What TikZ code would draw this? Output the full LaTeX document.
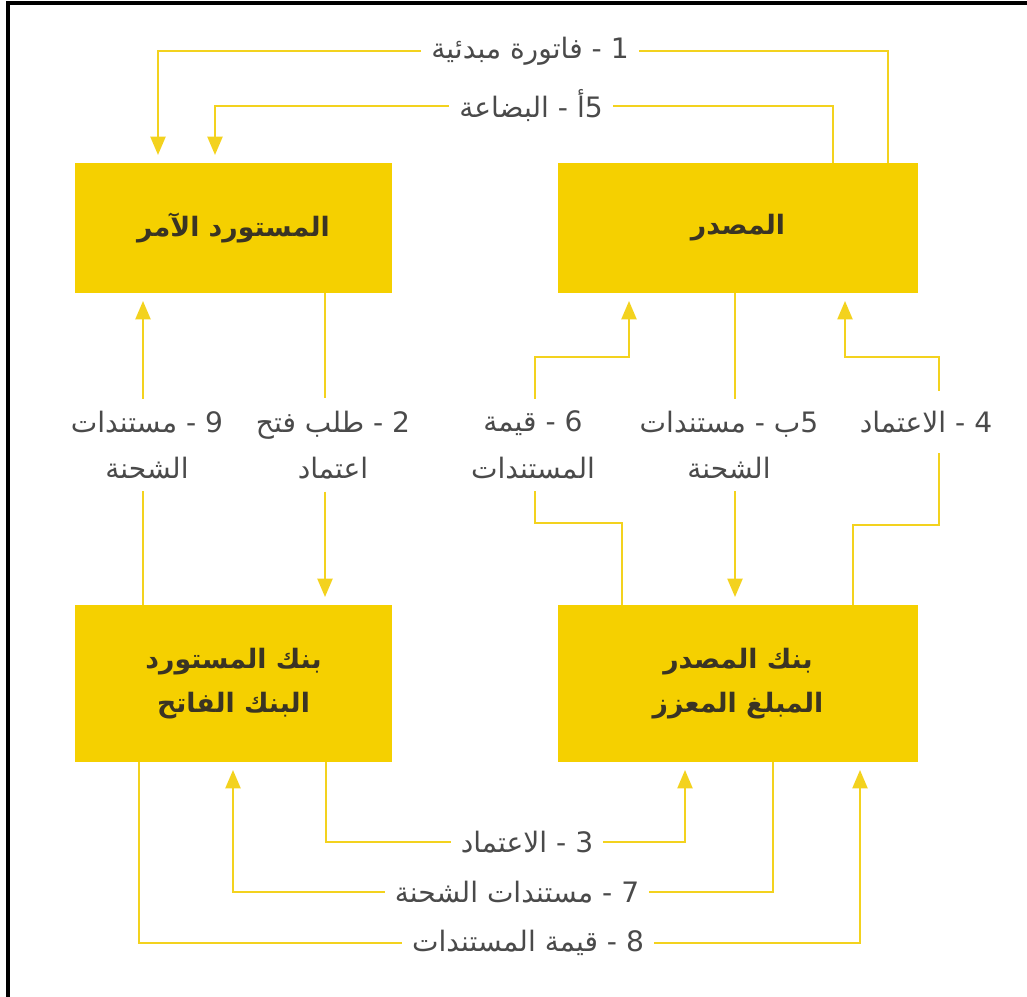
\documentclass[tikz,border=0pt]{standalone}
\usepackage{fontspec}
\usetikzlibrary{arrows.meta,positioning,calc}
\newfontfamily\arabicfont[Script=Arabic]{DejaVu Sans}
\TeXXeTstate=1
\definecolor{gold}{HTML}{F5D000}
\definecolor{goldline}{HTML}{F3D21E}
\definecolor{labelgray}{HTML}{4A4A4A}
\definecolor{boxtext}{HTML}{3A3424}
\newcommand\artxt[1]{{\arabicfont\beginR #1\endR}}

\begin{document}
\begin{tikzpicture}[x=0.025cm,y=-0.025cm,
  party/.style={rectangle,fill=gold,inner sep=0pt,outer sep=0pt,align=center,
     font=\arabicfont\bfseries\fontsize{19}{31}\selectfont,text=boxtext},
  small/.style={party,minimum width=7.925cm},
  wide/.style={party,minimum width=9cm},
  lbl/.style={align=center,inner xsep=0.25cm,inner ysep=0.3cm,text=labelgray,
     font=\arabicfont\fontsize{20}{33}\selectfont},
  flow/.style={draw=goldline,line width=1.2pt},
  tip/.style={flow,shorten >=0.2cm,-{Triangle[length=4.6mm,width=3.8mm]}}]
\useasboundingbox (0,0) rectangle (1027,997);
\draw[line width=2.2pt] (8,997) -- (8,3) -- (1027,3);

\node[small,minimum height=3.25cm] (importer) at (233.5,228) {\artxt{المستورد الآمر}};
\node[wide,minimum height=3.25cm] (exporter) at (738,228) {\artxt{المصدر}};
\node[small,minimum height=3.925cm] (ibank) at (233.5,683.5) {\artxt{بنك المستورد}\\\artxt{البنك الفاتح}};
\node[wide,minimum height=3.925cm] (ebank) at (738,683.5) {\artxt{بنك المصدر}\\\artxt{المبلغ المعزز}};

\node[lbl] (invoice) at (530,51) {\artxt{1 - فاتورة مبدئية}};
\node[lbl] (goods) at (531,106) {\artxt{5\kern0pt أ - البضاعة}};
\node[lbl] (docs9) at (147,445) {\artxt{9 - مستندات}\\\artxt{الشحنة}};
\node[lbl] (request) at (333,445) {\artxt{2 - طلب فتح}\\\artxt{اعتماد}};
\node[lbl] (value6) at (533,445) {\artxt{6 - قيمة}\\\artxt{المستندات}};
\node[lbl] (docs5) at (729,445) {\artxt{5\kern0pt ب - مستندات}\\\artxt{الشحنة}};
\node[lbl,inner ysep=0.5cm] (credit4) at (926,422) {\artxt{4 - الاعتماد}};
\node[lbl] (credit3) at (527,842) {\artxt{3 - الاعتماد}};
\node[lbl] (docs7) at (517,892) {\artxt{7 - مستندات الشحنة}};
\node[lbl] (value8) at (528,943) {\artxt{8 - قيمة المستندات}};

\coordinate (k1) at (888,0);
\coordinate (n1) at (158,0);
\coordinate (k5) at (833,0);
\coordinate (n5) at (215,0);
\coordinate (c9) at (143,0);
\coordinate (c2) at (325,0);
\coordinate (k6) at (622,523);
\coordinate (m6) at (535,357);
\coordinate (n6) at (629,0);
\coordinate (c5) at (735,0);
\coordinate (k4) at (853,525);
\coordinate (m4) at (939,357);
\coordinate (n4) at (845,0);
\coordinate (k3) at (326,0);
\coordinate (n3) at (685,0);
\coordinate (k7) at (773,0);
\coordinate (n7) at (233,0);
\coordinate (k8) at (139,0);
\coordinate (n8) at (860,0);

\draw[flow] (exporter.north -| k1) |- (invoice.east);
\draw[tip] (invoice.west) -| (importer.north -| n1);
\draw[flow] (exporter.north -| k5) |- (goods.east);
\draw[tip] (goods.west) -| (importer.north -| n5);

\draw[flow] (ibank.north -| c9) -- (c9 |- docs9.south);
\draw[tip] (c9 |- docs9.north) -- (importer.south -| c9);
\draw[flow] (importer.south -| c2) -- (c2 |- request.north);
\draw[tip] (c2 |- request.south) -- (ibank.north -| c2);
\draw[flow] (ebank.north -| k6) -- (k6) -| (m6 |- value6.south);
\draw[tip] (m6 |- value6.north) -- (m6) -| (exporter.south -| n6);
\draw[flow] (exporter.south -| c5) -- (c5 |- docs5.north);
\draw[tip] (c5 |- docs5.south) -- (ebank.north -| c5);
\draw[flow] (ebank.north -| k4) -- (k4) -| (m4 |- credit4.south);
\draw[tip] (m4 |- credit4.north) -- (m4) -| (exporter.south -| n4);

\draw[flow] (ibank.south -| k3) |- (credit3.west);
\draw[tip] (credit3.east) -| (ebank.south -| n3);
\draw[flow] (ebank.south -| k7) |- (docs7.east);
\draw[tip] (docs7.west) -| (ibank.south -| n7);
\draw[flow] (ibank.south -| k8) |- (value8.west);
\draw[tip] (value8.east) -| (ebank.south -| n8);
\end{tikzpicture}
\end{document}
